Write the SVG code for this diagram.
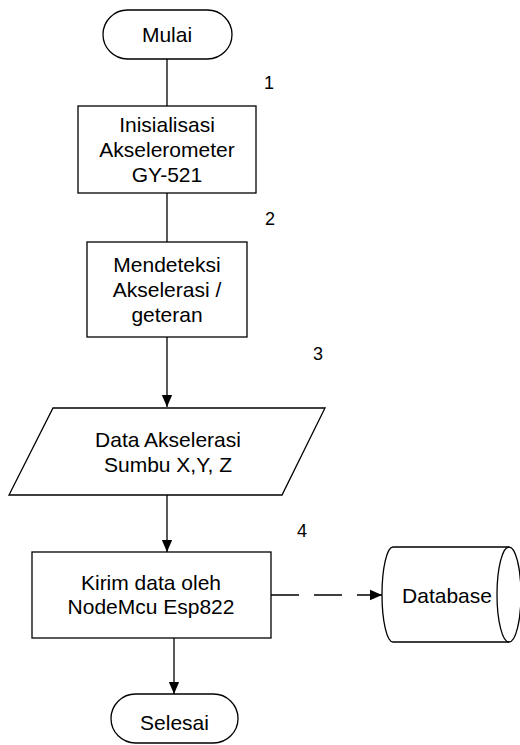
<svg xmlns="http://www.w3.org/2000/svg" width="520" height="745" viewBox="0 0 520 745">
<style>
.s{fill:#fff;stroke:#000;stroke-width:1.3}
.t{font-family:"Liberation Sans",Arial,sans-serif;font-size:21px;fill:#000;text-anchor:middle}
.n{font-family:"Liberation Sans",Arial,sans-serif;font-size:18px;fill:#000;text-anchor:middle}
.c{fill:none;stroke:#000;stroke-width:1.3}
</style>
<defs>
<marker id="ah" markerWidth="12" markerHeight="12" viewBox="0 0 14 12" refX="14" refY="6" orient="auto" markerUnits="userSpaceOnUse">
<path d="M0,0 L14,6 L0,12 Z" fill="#000"/>
</marker>
</defs>
<rect width="520" height="745" fill="#fff"/>
<g id="connectors">
<line class="c" x1="167" y1="59" x2="167" y2="106"/>
<line class="c" x1="167" y1="193" x2="167" y2="242"/>
<line class="c" x1="167" y1="337" x2="167" y2="407" marker-end="url(#ah)"/>
<line class="c" x1="167" y1="495" x2="167" y2="552" marker-end="url(#ah)"/>
<line class="c" x1="174" y1="638" x2="174" y2="694" marker-end="url(#ah)"/>
<line class="c" x1="271" y1="595" x2="382" y2="595" stroke-dasharray="28,15" marker-end="url(#ah)"/>
</g>
<g id="labels">
<text class="n" x="269" y="89">1</text>
<text class="n" x="270" y="225">2</text>
<text class="n" x="318" y="360">3</text>
<text class="n" x="302" y="537">4</text>
</g>
<g id="mulai">
<rect class="s" x="103" y="10" width="129" height="49" rx="24.5"/>
<text class="t" x="167" y="42">Mulai</text>
</g>
<g id="inisialisasi">
<rect class="s" x="78" y="106" width="178" height="87"/>
<text class="t" x="167" y="132">Inisialisasi</text>
<text class="t" x="167" y="157">Akselerometer</text>
<text class="t" x="167" y="182">GY-521</text>
</g>
<g id="mendeteksi">
<rect class="s" x="87" y="242" width="160" height="95"/>
<text class="t" x="167" y="272">Mendeteksi</text>
<text class="t" x="167" y="297">Akselerasi /</text>
<text class="t" x="167" y="322">geteran</text>
</g>
<g id="data">
<path class="s" d="M53,408 L325,408 L282,495 L9,495 Z"/>
<text class="t" x="168" y="447">Data Akselerasi</text>
<text class="t" x="168" y="472">Sumbu X,Y, Z</text>
</g>
<g id="kirim">
<rect class="s" x="32" y="552" width="239" height="86"/>
<text class="t" x="151" y="590">Kirim data oleh</text>
<text class="t" x="151" y="614">NodeMcu Esp822</text>
</g>
<g id="database">
<path class="s" d="M393,547 L509,547 A12,47.5 0 0 1 509,642 L393,642 A11,47.5 0 0 1 393,547 Z"/>
<path class="c" d="M509,547 A12,47.5 0 0 0 509,642"/>
<text class="t" x="447" y="603">Database</text>
</g>
<g id="selesai">
<rect class="s" x="111" y="694" width="127" height="49" rx="24.5"/>
<text class="t" x="174.5" y="730">Selesai</text>
</g>
</svg>
